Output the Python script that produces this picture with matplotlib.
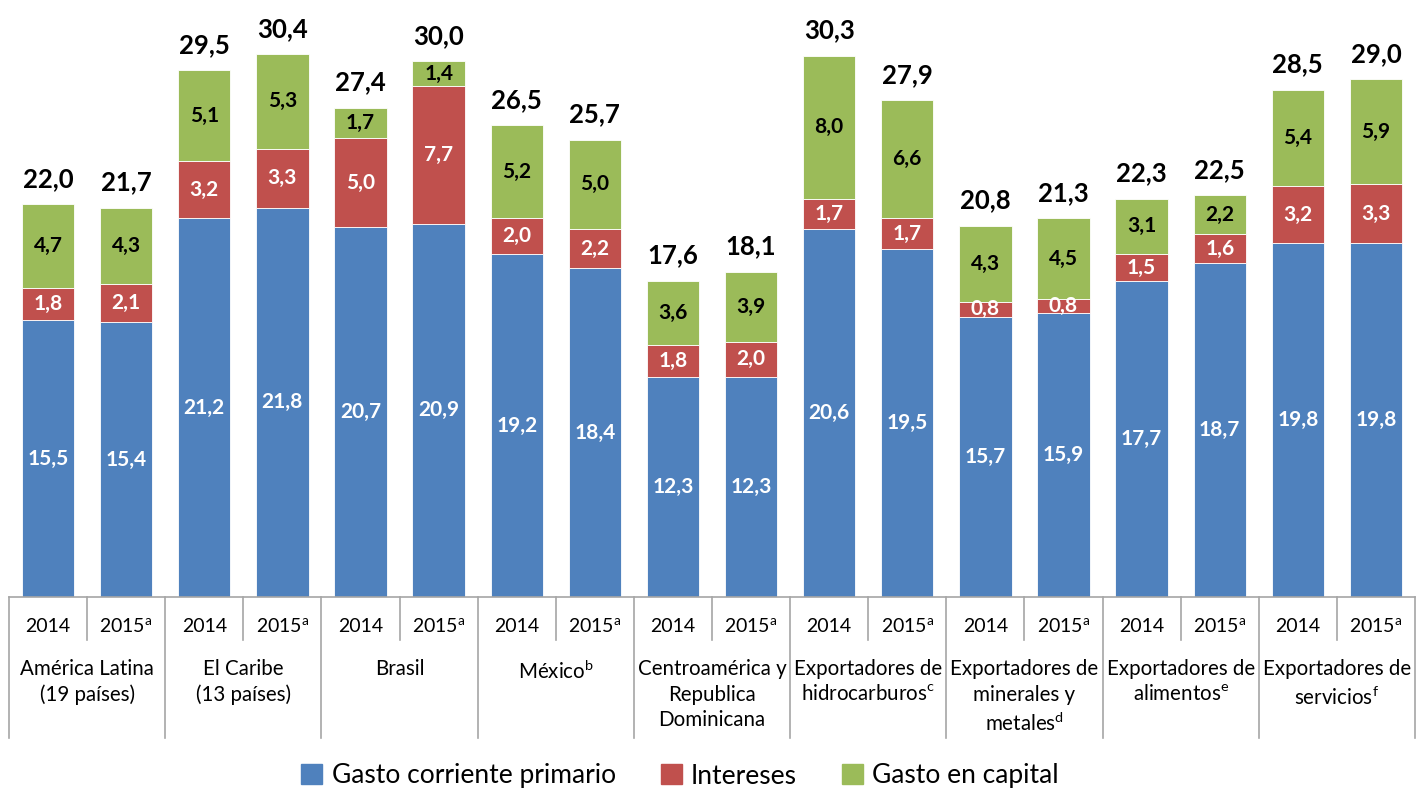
import matplotlib as mpl
mpl.use("Agg")
import matplotlib.pyplot as plt
import matplotlib.transforms as mtransforms
from matplotlib.patches import Patch
import numpy as np

plt.rcParams['font.family'] = ['Lato', 'DejaVu Sans']
plt.rcParams['mathtext.fontset'] = 'custom'
plt.rcParams['mathtext.rm'] = 'Lato'

groups = ["América Latina\n(19 países)", "El Caribe\n(13 países)", "Brasil",
          "México$^{\\mathrm{b}}$", "Centroamérica y\nRepublica\nDominicana",
          "Exportadores de\nhidrocarburos$^{\\mathrm{c}}$",
          "Exportadores de\nminerales y\nmetales$^{\\mathrm{d}}$",
          "Exportadores de\nalimentos$^{\\mathrm{e}}$",
          "Exportadores de\nservicios$^{\\mathrm{f}}$"]
years = ["2014", "2015$^{\\mathrm{a}}$"]

corriente = [15.5, 15.4, 21.2, 21.8, 20.7, 20.9, 19.2, 18.4, 12.3, 12.3,
             20.6, 19.5, 15.7, 15.9, 17.7, 18.7, 19.8, 19.8]
intereses = [1.8, 2.1, 3.2, 3.3, 5.0, 7.7, 2.0, 2.2, 1.8, 2.0,
             1.7, 1.7, 0.8, 0.8, 1.5, 1.6, 3.2, 3.3]
capital = [4.7, 4.3, 5.1, 5.3, 1.7, 1.4, 5.2, 5.0, 3.6, 3.9,
           8.0, 6.6, 4.3, 4.5, 3.1, 2.2, 5.4, 5.9]
totales = [22.0, 21.7, 29.5, 30.4, 27.4, 30.0, 26.5, 25.7, 17.6, 18.1,
           30.3, 27.9, 20.8, 21.3, 22.3, 22.5, 28.5, 29.0]

series = ["Gasto corriente primario", "Intereses", "Gasto en capital"]
colors = ["#4F81BD", "#C0504D", "#9BBB59"]

def fmt(v):
    return f"{v:.1f}".replace(".", ",")

W, H = 1416, 789
fig = plt.figure(figsize=(W / 100, H / 100), dpi=100)
base_px = 597
ax = fig.add_axes([9 / W, (H - base_px) / H, 1406 / W, base_px / H])

x = np.arange(len(corriente))
width = 0.67
bottom = np.zeros(len(x))
for vals, col, tc in zip([corriente, intereses, capital], colors, ["white", "white", "black"]):
    vals = np.array(vals)
    ax.bar(x, vals, width, bottom=bottom, color=col, edgecolor="white", linewidth=0.6)
    for xi, b, v in zip(x, bottom, vals):
        ax.text(xi, b + v / 2, fmt(v), ha="center", va="center", color=tc,
                fontsize=15, fontweight="bold")
    bottom = bottom + vals

for xi, top, t in zip(x, bottom, totales):
    ax.text(xi, top + 0.75, fmt(t), ha="center", va="bottom", color="black",
            fontsize=18.5, fontweight="bold")

ax.set_xlim(-0.5, len(x) - 0.5)
ax.set_ylim(0, base_px / 17.86)
for s in ["top", "right", "left", "bottom"]:
    ax.spines[s].set_visible(False)
ax.set_xticks([])
ax.set_yticks([])

# category axis
trans = mtransforms.blended_transform_factory(ax.transData, ax.transAxes)
def fy(px):
    return (base_px - px) / base_px

line_col = "#A6A6A6"
ax.plot([-0.5, len(x) - 0.5], [0, 0], transform=trans, color=line_col, lw=1.2, clip_on=False)
for xi in x:
    ax.text(xi, fy(627), years[xi % 2], transform=trans, ha="center", va="center",
            fontsize=14, clip_on=False)
for g in range(len(groups) + 1):
    xs = 2 * g - 0.5
    ax.plot([xs, xs], [0, fy(738)], transform=trans, color=line_col, lw=1.2, clip_on=False)
    if g < len(groups):
        ax.plot([xs + 1, xs + 1], [0, fy(640)], transform=trans, color=line_col, lw=1.2, clip_on=False)
        ax.text(xs + 1, fy(659), groups[g], transform=trans, ha="center", va="top",
                fontsize=14.8, linespacing=1.35, clip_on=False)

handles = [Patch(facecolor=c, edgecolor=c) for c in colors]
fig.legend(handles, series, loc="center", bbox_to_anchor=(680 / W, (H - 776) / H), ncol=3,
           frameon=False, fontsize=19, handlelength=0.8, handleheight=0.8,
           handletextpad=0.35, columnspacing=1.7)

fig.savefig("out.png", dpi=100)
